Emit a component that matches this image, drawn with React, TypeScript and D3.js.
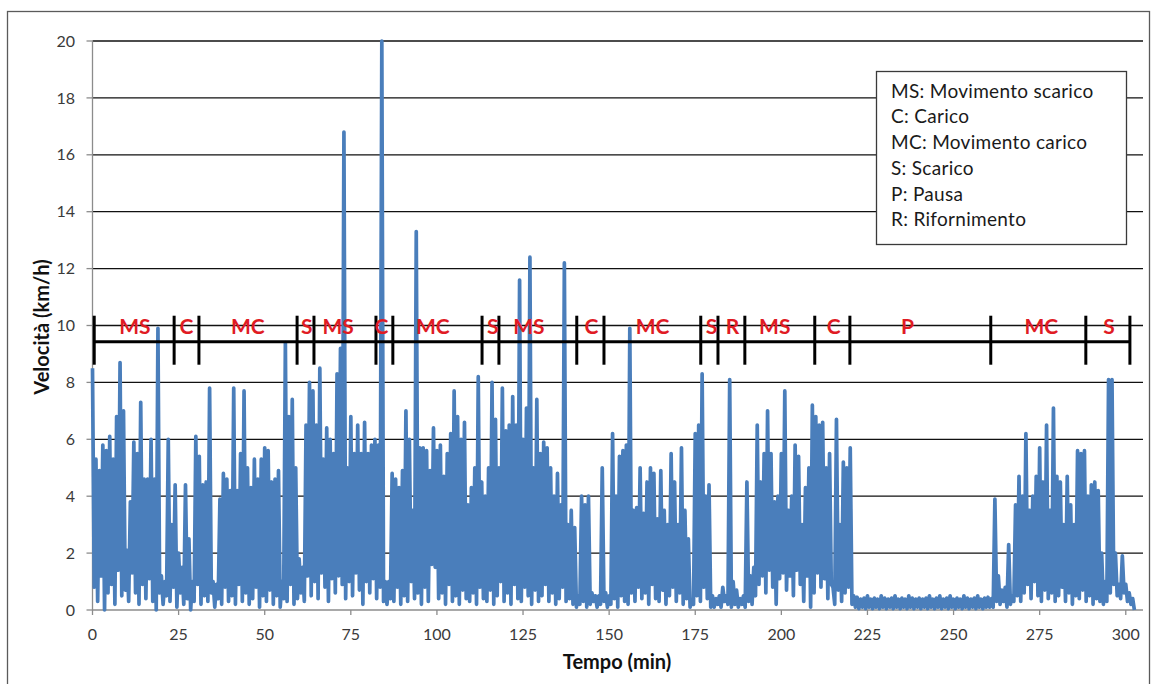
import * as d3 from "d3";

// speed: one max (peak) and one min (dip) per minute, 0..302 min
const peakSpeed = [
  8.5, 5.3, 4.9, 5.8, 5.6, 6.1, 5.3, 6.8, 8.7, 7.0,
  2.1, 3.8, 5.9, 5.5, 7.3, 4.6, 4.6, 6.0, 4.6, 9.9,
  1.2, 1.0, 6.0, 3.0, 4.4, 2.0, 1.5, 4.4, 2.5, 1.0,
  6.1, 5.4, 4.4, 4.5, 7.8, 1.0, 0.9, 3.9, 4.8, 4.6,
  4.2, 7.8, 4.2, 5.5, 7.7, 5.0, 4.3, 5.3, 4.6, 5.3,
  5.7, 5.6, 4.5, 4.6, 4.9, 1.0, 9.4, 6.8, 7.4, 5.0,
  1.8, 1.5, 6.5, 8.0, 7.7, 6.5, 8.5, 5.3, 6.4, 6.0,
  5.5, 8.3, 9.2, 16.8, 5.0, 6.8, 5.5, 6.5, 5.5, 6.6,
  5.5, 5.8, 6.0, 5.8, 20, 1.0, 1.0, 4.8, 4.6, 4.3,
  4.9, 7.0, 6.0, 3.5, 13.3, 5.7, 5.7, 5.6, 4.9, 6.4,
  5.6, 5.8, 4.7, 5.5, 6.2, 7.7, 6.8, 6.0, 6.6, 3.7,
  4.3, 5.0, 8.2, 4.5, 4.0, 5.0, 8.0, 6.7, 5.0, 7.8,
  6.3, 6.5, 7.5, 6.5, 11.6, 6.0, 7.1, 12.4, 5.0, 7.4,
  5.5, 5.9, 5.7, 5.0, 4.0, 4.8, 3.7, 12.2, 3.0, 3.5,
  2.9, 0.5, 4.0, 3.7, 4.0, 0.6, 0.5, 0.5, 5.0, 0.6,
  0.5, 6.2, 4.0, 5.4, 5.6, 5.8, 9.9, 3.5, 3.6, 5.0,
  3.4, 4.5, 5.0, 4.8, 3.2, 4.9, 3.5, 3.0, 5.5, 4.5,
  3.0, 5.7, 3.5, 2.5, 0.3, 6.2, 6.5, 8.3, 4.0, 4.4,
  0.5, 0.4, 0.5, 0.8, 0.5, 8.1, 1.0, 0.7, 0.4, 0.5,
  4.5, 1.2, 1.5, 6.5, 4.5, 5.5, 7.0, 5.5, 3.8, 4.0,
  5.5, 7.7, 3.5, 4.0, 5.8, 5.4, 3.0, 4.3, 5.0, 7.2,
  6.8, 6.5, 6.6, 5.0, 5.5, 0.8, 6.7, 3.0, 5.2, 5.0,
  5.7, 0.5, 0.45, 0.38, 0.42, 0.5, 0.38, 0.42, 0.38, 0.5,
  0.42, 0.38, 0.42, 0.5, 0.38, 0.42, 0.38, 0.5, 0.42, 0.38,
  0.42, 0.38, 0.42, 0.5, 0.38, 0.42, 0.5, 0.38, 0.42, 0.5,
  0.38, 0.42, 0.38, 0.5, 0.42, 0.38, 0.42, 0.5, 0.38, 0.42,
  0.45, 0.4, 3.9, 1.2, 0.7, 0.8, 2.3, 0.5, 3.7, 4.7,
  4.0, 6.2, 3.5, 4.0, 4.7, 5.7, 4.5, 6.5, 3.5, 7.1,
  4.7, 4.5, 3.0, 4.7, 3.7, 3.0, 5.6, 5.5, 5.6, 4.0,
  4.4, 4.5, 4.2, 2.0, 1.0, 8.1, 8.1, 2.0, 0.9, 1.9,
  0.9, 0.6, 0.4,
];

const dipSpeed = [
  0.8, 0.3, 1.2, 0, 0.6, 0.9, 0.2, 1.4, 0.5, 0.7,
  0.3, 1.3, 0.6, 0.2, 0.9, 0.4, 1.1, 0.3, 0, 0.6,
  0.2, 0.5, 0.3, 0.8, 0.1, 0.6, 0.2, 0.4, 0, 0.3,
  0.9, 0.2, 0.5, 0.3, 0.6, 0.1, 0.4, 0.2, 0.8, 0.3,
  0.5, 0.2, 0.9, 0.3, 0.6, 0.2, 0.4, 0.8, 0.1, 0.5,
  0.3, 0.7, 0.2, 0.5, 0.1, 0.4, 0.3, 0.9, 0.2, 0.4,
  0.6, 0.3, 1.2, 0.5, 1.0, 0.4, 1.3, 0.8, 0.3, 1.1,
  0.6, 1.2, 0.9, 0.4, 1.0, 0.5, 1.3, 0.7, 0.2, 1.0,
  0.6, 1.1, 0.4, 0.8, 0.3, 0.2, 0.4, 0.3, 0.8, 0.2,
  0.5, 0.3, 1.0, 0.4, 0.6, 0.2, 0.8, 0.3, 1.6, 1.5,
  0.4, 0.6, 0.2, 0.9, 0.3, 0.5, 0.2, 0.7, 0.4, 0.3,
  0.6, 0.2, 0.8, 0.4, 0.3, 0.7, 0.2, 0.5, 1.0, 0.3,
  0.6, 0.2, 0.9, 0.4, 0.3, 0.8, 0.5, 0.2, 0.7, 0.3,
  0.5, 0.9, 0.3, 0.6, 0.2, 0.4, 0.8, 0.3, 0.4, 0.2,
  0.1, 0.2, 0.3, 0.1, 0.2, 0.3, 0.1, 0.2, 0.3, 0.1,
  0.2, 0.4, 0.1, 0.5, 0.3, 0.2, 0.6, 0.3, 0.8, 0.4,
  0.6, 0.2, 0.9, 0.4, 0.3, 0.7, 0.2, 0.5, 0.8, 0.3,
  0.6, 0.2, 0.4, 0.1, 0.2, 0.5, 0.3, 0.8, 0.4, 0.1,
  0.1, 0.2, 0.1, 0.3, 0.2, 0.1, 0.2, 0.1, 0.2, 0.1,
  0.3, 0.2, 0.5, 0.9, 1.2, 0.6, 1.4, 0.8, 0.2, 1.1,
  1.3, 0.7, 1.2, 0.5, 1.4, 0.9, 0.3, 1.2, 0.1, 0.6,
  1.3, 0.8, 1.1, 0.4, 0.9, 0.2, 0.7, 0.3, 0.6, 0.8,
  0.2, 0.1, 0.05, 0.1, 0.05, 0.1, 0.05, 0.1, 0.05, 0.1,
  0.05, 0.1, 0.05, 0.1, 0.05, 0.1, 0.05, 0.1, 0.05, 0.1,
  0.05, 0.1, 0.05, 0.1, 0.05, 0.1, 0.05, 0.1, 0.05, 0.1,
  0.05, 0.1, 0.05, 0.1, 0.05, 0.1, 0.05, 0.1, 0.05, 0.1,
  0.1, 0.1, 0.3, 0.2, 0.3, 0.1, 0.2, 0.3, 0.5, 0.3,
  0.6, 0.9, 0.4, 1.0, 0.5, 0.3, 0.7, 0.4, 0.6, 0.3,
  0.5, 0.8, 0.3, 0.6, 0.2, 0.5, 0.4, 0.7, 0.3, 0.5,
  0.2, 0.4, 0.3, 0.2, 0.3, 0.6, 0.9, 0.5, 0.4, 0.6,
  0.3, 0.2, 0.0,
];

// work phases along the top bar (minutes)
const phaseNames = ["MS", "C", "MC", "S", "MS", "C", "MC", "S", "MS", "C", "MC", "S", "R", "MS", "C", "P", "MC", "S"];
const phaseBounds = [0.5, 23.7, 30.9, 59.4, 64.3, 82.3, 87.2, 113.1, 118, 140.6, 148.5, 176.6, 181.6, 189.4, 209.7, 219.9, 260.8, 288.4, 301.2];
const phaseLabelAt = [12.3, 27.3, 45.1, 62.2, 71.3, 83.9, 98.8, 116.2, 126.7, 144.9, 162.6, 179.7, 185.8, 198.1, 215.2, 236.6, 275.5, 295.1];

const legendLines = [
  "MS: Movimento scarico",
  "C: Carico",
  "MC: Movimento carico",
  "S: Scarico",
  "P: Pausa",
  "R: Rifornimento",
];

const xTickValues = [0, 25, 50, 75, 100, 125, 150, 175, 200, 225, 250, 275, 300];
const yTickValues = [0, 2, 4, 6, 8, 10, 12, 14, 16, 18, 20];

const FONT = "Lato, 'Open Sans', sans-serif";
const BLUE = "#4a7ebb";
const RED = "#e01b24";

export default function App() {
  const x = d3.scaleLinear().domain([0, 305]).range([92.5, 1143]);
  const y = d3.scaleLinear().domain([0, 20]).range([610, 41]);

  // interleave per-minute peaks and dips
  const pts: [number, number][] = [];
  peakSpeed.forEach((p, i) => {
    pts.push([i, p]);
    if (dipSpeed[i] !== undefined) pts.push([i + 0.5, dipSpeed[i]]);
  });

  const line = d3
    .line<[number, number]>()
    .x((d) => x(d[0]))
    .y((d) => y(d[1]));

  const barY = y(9.43);

  return (
    <svg
      width={1153}
      height={684}
      style={{ position: "absolute", left: 0, top: 0, background: "#fff" }}
      fontFamily={FONT}
    >
      {/* chart frame */}
      <rect x={7.5} y={11.5} width={1142} height={700} fill="#fff" stroke="#5a5a5a" strokeWidth={1.3} />

      {/* gridlines */}
      {yTickValues
        .filter((v) => v > 0)
        .map((v) => (
          <line key={"g" + v} x1={x(0)} x2={x(305)} y1={y(v)} y2={y(v)} stroke="#111" strokeWidth={1.3} />
        ))}

      {/* axes */}
      <line x1={x(0)} x2={x(0)} y1={y(20)} y2={y(0)} stroke="#8c8c8c" strokeWidth={1.3} />
      <line x1={x(0)} x2={x(305)} y1={y(0)} y2={y(0)} stroke="#8c8c8c" strokeWidth={1.3} />
      {yTickValues.map((v) => (
        <g key={"y" + v}>
          <line x1={x(0) - 6} x2={x(0)} y1={y(v)} y2={y(v)} stroke="#8c8c8c" strokeWidth={1.3} />
          <text x={75} y={y(v)} dy="0.35em" textAnchor="end" fontSize={16} fill="#3a3a3a">
            {v}
          </text>
        </g>
      ))}
      {xTickValues.map((v) => (
        <g key={"x" + v}>
          <line x1={x(v)} x2={x(v)} y1={y(0)} y2={y(0) + 5} stroke="#8c8c8c" strokeWidth={1.3} />
          <text x={x(v)} y={640} textAnchor="middle" fontSize={16} fill="#3a3a3a">
            {v}
          </text>
        </g>
      ))}

      {/* series */}
      <path d={line(pts) ?? ""} fill="none" stroke={BLUE} strokeWidth={3.7} strokeLinejoin="round" />

      {/* phase bar */}
      <line x1={x(phaseBounds[0])} x2={x(phaseBounds[phaseBounds.length - 1])} y1={barY} y2={barY} stroke="#000" strokeWidth={3} />
      {phaseBounds.map((b, i) => (
        <line key={"pb" + i} x1={x(b)} x2={x(b)} y1={barY - 26} y2={barY + 23} stroke="#000" strokeWidth={3} />
      ))}
      {phaseNames.map((n, i) => (
        <text
          key={"pn" + i}
          x={x(phaseLabelAt[i])}
          y={334}
          textAnchor="middle"
          fontSize={21}
          fontWeight={700}
          fill={RED}
        >
          {n}
        </text>
      ))}

      {/* legend */}
      <rect x={876.5} y={71.5} width={250} height={173} fill="#fff" stroke="#3a3a3a" strokeWidth={1.3} />
      {legendLines.map((t, i) => (
        <text key={"l" + i} x={891} y={97.7 + i * 25.7} fontSize={19} fill="#1a1a1a" letterSpacing={0.3}>
          {t}
        </text>
      ))}

      {/* axis titles */}
      <text x={617} y={669} textAnchor="middle" fontSize={20} fontWeight={700} fill="#111">
        Tempo (min)
      </text>
      <text
        transform={`translate(41.5,327) rotate(-90)`}
        dy="0.35em"
        textAnchor="middle"
        fontSize={20}
        fontWeight={700}
        fill="#111"
      >
        Velocità (km/h)
      </text>
    </svg>
  );
}
